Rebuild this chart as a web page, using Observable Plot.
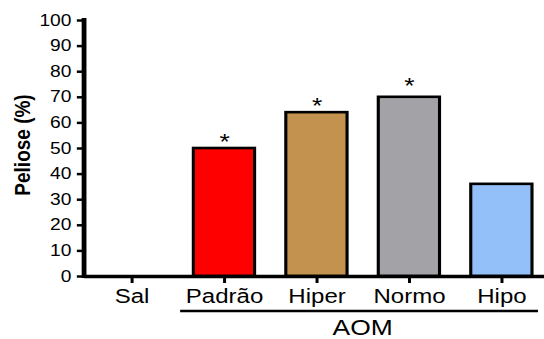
<!DOCTYPE html>
<html>
<head>
<meta charset="utf-8">
<script src="https://cdn.jsdelivr.net/npm/d3@7"></script>
<script src="https://cdn.jsdelivr.net/npm/@observablehq/plot@0.6"></script>
<style>
  html, body { margin: 0; padding: 0; background: #fff; }
  #chart { width: 544px; height: 339px; overflow: hidden; }
</style>
</head>
<body>
<div id="chart"></div>
<script>
// ---- data ----
const categories = ["Sal", "Padrão", "Hiper", "Normo", "Hipo"];
const values = [0, 50, 64, 70, 36];
const colors = ["#ffffff", "#fe0000", "#c4924f", "#a3a2a7", "#93c0f8"];
const starY = [null, 50, 64, 71.5, null];   // significance markers (data units)
const yTicks = [0, 10, 20, 30, 40, 50, 60, 70, 80, 90, 100];
const yLabel = "Peliose (%)";
const groupLabel = "AOM";
const groupFrom = "Padrão";
const groupTo = "Hipo";

const bars = categories.map((c, i) => ({cat: c, value: values[i], color: colors[i]}));
const stars = categories.map((c, i) => ({cat: c, y: starY[i]})).filter(d => d.y != null);

const W = 453, H = 339;       // drawn then stretched horizontally to 544
const font = "'Liberation Sans', Arial, Helvetica, sans-serif";

const annotations = (index, scales, values, dims) => {
  const x = scales.x, y = scales.y;
  const bw = x.bandwidth();
  const g = d3.create("svg:g");
  // y axis line
  g.append("line")
    .attr("x1", dims.marginLeft).attr("x2", dims.marginLeft)
    .attr("y1", y(0)).attr("y2", y(100))
    .attr("stroke", "black").attr("stroke-width", 4).attr("stroke-linecap", "square");
  // y axis title
  g.append("text")
    .attr("transform", `translate(${dims.marginLeft - 52},${(y(0) + y(100)) / 2 - 3}) rotate(-90)`)
    .attr("text-anchor", "middle")
    .attr("dy", "0.35em")
    .attr("font-size", 19)
    .attr("font-weight", "bold")
    .attr("font-family", font)
    .attr("fill", "black")
    .text(yLabel);
  // group bracket
  const x1 = x(groupFrom) - 11, x2 = x(groupTo) + bw + 5;
  const yl = y(0) + 35;
  g.append("line")
    .attr("x1", x1).attr("x2", x2).attr("y1", yl).attr("y2", yl)
    .attr("stroke", "black").attr("stroke-width", 2.5);
  g.append("text")
    .attr("x", (x(groupFrom) + x(groupTo) + bw) / 2)
    .attr("y", yl + 24)
    .attr("text-anchor", "middle")
    .attr("font-size", 22)
    .attr("font-family", font)
    .attr("fill", "black")
    .text(groupLabel);
  return g.node();
};

const svg = Plot.plot({
  width: W, height: H,
  marginLeft: 70, marginRight: 0, marginTop: 20, marginBottom: 63,
  style: {fontFamily: font, color: "black", background: "white"},
  x: {domain: categories, range: [70, 457], paddingInner: 0.333, paddingOuter: 0.1667, label: null},
  y: {domain: [0, 100], label: null},
  color: {type: "identity"},
  marks: [
    Plot.barY(bars, {x: "cat", y: "value", fill: d => d.color, stroke: "black", strokeWidth: 2.6}),
    Plot.ruleY([0], {strokeWidth: 3.5}),
    Plot.axisX({tickSize: 7, tickPadding: 5, fontSize: 20, strokeWidth: 2.5, label: null}),
    Plot.axisY({ticks: yTicks, tickSize: 6, tickPadding: 5, fontSize: 16, strokeWidth: 2.5, label: null}),
    Plot.text(stars, {x: "cat", y: "y", text: () => "*", lineAnchor: "bottom", fontSize: 22}),
    annotations
  ]
});

svg.setAttribute("width", 544);
svg.setAttribute("height", 339);
svg.setAttribute("viewBox", `0 0 ${W} ${H}`);
svg.setAttribute("preserveAspectRatio", "none");
svg.style.width = "544px";
svg.style.height = "339px";
svg.style.maxWidth = "none";
document.getElementById("chart").appendChild(svg);
</script>
</body>
</html>
